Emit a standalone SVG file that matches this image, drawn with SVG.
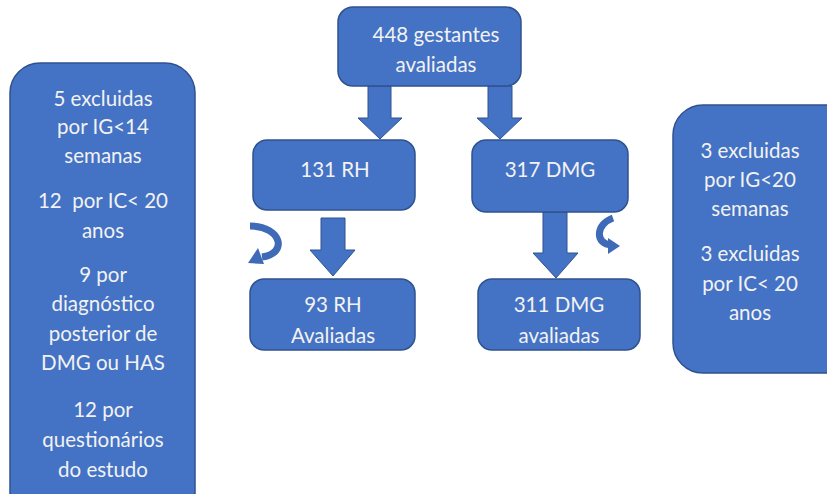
<svg xmlns="http://www.w3.org/2000/svg" width="827" height="494" viewBox="0 0 827 494">
<style>
.box{fill:#4472C4;stroke:#2F528F;stroke-width:1.5}
.arr{fill:#4472C4;stroke:#2F528F;stroke-width:1}
.t{font-family:Lato,"Noto Sans",sans-serif;font-size:20.5px;fill:#F2F2F2;text-anchor:middle;white-space:pre}
.curve{fill:none;stroke:#3F6AB8;stroke-width:7}
</style>
<rect width="827" height="494" fill="#ffffff"/>
<g id="connectors">
<polygon class="arr" points="368,86 391,86 391,118 402,118 380,139 358,118 368,118"/>
<polygon class="arr" points="488,86 512,86 512,118 522,118 500,139 477,118 488,118"/>
<polygon class="arr" points="321,218 345,218 345,250 355,250 333,276 310,250 321,250"/>
<polygon class="arr" points="543,212 567,212 567,253 578,253 556,278 533,253 543,253"/>
<path class="curve" d="M250,226 C282,226 288,254 262,257"/>
<polygon fill="#3F6AB8" points="248,263 258,248 264,264"/>
<path class="curve" d="M613,218 C596,224 594,244 612,245"/>
<polygon fill="#3F6AB8" points="620,246 608,238 608,254"/>
</g>
<g id="n448">
<rect class="box" x="338" y="7" width="183" height="79" rx="15"/>
<text class="t" x="436" y="42">448 gestantes</text>
<text class="t" x="436" y="72">avaliadas</text>
</g>
<g id="nleft">
<rect class="box" x="10" y="63" width="185" height="460" rx="30"/>
<text class="t" x="103" y="106">5 excluidas</text>
<text class="t" x="103" y="134">por IG&lt;14</text>
<text class="t" x="103" y="163">semanas</text>
<text class="t" x="103" y="208" xml:space="preserve">12  por IC&lt; 20</text>
<text class="t" x="103" y="238">anos</text>
<text class="t" x="103" y="282">9 por</text>
<text class="t" x="103" y="311">diagnóstico</text>
<text class="t" x="103" y="341">posterior de</text>
<text class="t" x="103" y="370">DMG ou HAS</text>
<text class="t" x="103" y="417">12 por</text>
<text class="t" x="103" y="447">questionários</text>
<text class="t" x="103" y="477">do estudo</text>
</g>
<g id="nright">
<rect class="box" x="673" y="105" width="185" height="268" rx="30"/>
<text class="t" x="750" y="158">3 excluidas</text>
<text class="t" x="750" y="187">por IG&lt;20</text>
<text class="t" x="750" y="216">semanas</text>
<text class="t" x="750" y="261">3 excluidas</text>
<text class="t" x="750" y="291">por IC&lt; 20</text>
<text class="t" x="750" y="320">anos</text>
</g>
<g id="n131">
<rect class="box" x="253" y="140" width="162" height="70" rx="14"/>
<text class="t" x="335" y="177">131 RH</text>
</g>
<g id="n317">
<rect class="box" x="472" y="140" width="156" height="72" rx="14"/>
<text class="t" x="550" y="177">317 DMG</text>
</g>
<g id="n93">
<rect class="box" x="250" y="279" width="165" height="71" rx="14"/>
<text class="t" x="333" y="312">93 RH</text>
<text class="t" x="333" y="343">Avaliadas</text>
</g>
<g id="n311">
<rect class="box" x="478" y="279" width="162" height="71" rx="14"/>
<text class="t" x="559" y="312">311 DMG</text>
<text class="t" x="559" y="343">avaliadas</text>
</g>
</svg>
